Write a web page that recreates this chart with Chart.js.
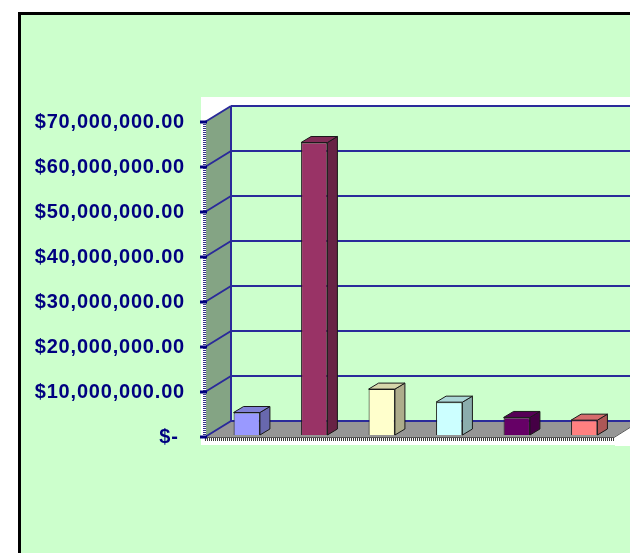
<!DOCTYPE html>
<html><head><meta charset="utf-8">
<script src="https://cdn.jsdelivr.net/npm/chart.js@4"></script>
<style>html,body{margin:0;padding:0;background:#fff;}canvas{display:block}</style>
</head><body>
<canvas id="c" width="630" height="553"></canvas>
<script>
const categories = ['Item 1', 'Item 2', 'Item 3', 'Item 4', 'Item 5', 'Item 6'];
const values = [5000000, 65000000, 10200000, 7300000, 3900000, 3300000];
const barColors = ['#9999FF', '#993366', '#FFFFCC', '#CCFFFF', '#660066', '#FF8080'];
const tickValues = [0, 10000000, 20000000, 30000000, 40000000, 50000000, 60000000, 70000000];
const tickLabels = ['$- ', '$10,000,000.00', '$20,000,000.00', '$30,000,000.00', '$40,000,000.00', '$50,000,000.00', '$60,000,000.00', '$70,000,000.00'];

function shade(hex, f) {
  const n = parseInt(hex.slice(1), 16);
  const r = Math.round(((n >> 16) & 255) * f), g = Math.round(((n >> 8) & 255) * f), b = Math.round((n & 255) * f);
  return 'rgb(' + r + ',' + g + ',' + b + ')';
}

const NAVY = '#2A2A9A';
const BAR_DX = 10, BAR_DY = 6;

const scene3d = {
  id: 'scene3d',
  beforeDraw(chart) {
    const ctx = chart.ctx, ca = chart.chartArea, ys = chart.scales.y;
    const W = chart.width, H = chart.height;
    ctx.save();
    ctx.fillStyle = '#FFFFFF'; ctx.fillRect(0, 0, W, H);
    ctx.fillStyle = '#000000'; ctx.fillRect(18, 12, W, H);
    ctx.fillStyle = '#CCFFCC'; ctx.fillRect(21, 15, W, H);
    ctx.fillStyle = '#FFFFFF'; ctx.fillRect(201, 97, W - 201, 348);

    const xF = ca.left - 8, xB = xF + 26;
    const yF = v => ys.getPixelForValue(v) + 2;
    const yB = v => yF(v) - 16;
    const vmax = tickValues[tickValues.length - 1];
    const xFR = ca.right - 4;

    ctx.fillStyle = '#CCFFCC';
    ctx.fillRect(xB, yB(vmax), W - xB, yB(0) - yB(vmax));
    ctx.fillStyle = '#84A484';
    ctx.beginPath();
    ctx.moveTo(xF, yF(0)); ctx.lineTo(xF, yF(vmax)); ctx.lineTo(xB, yB(vmax)); ctx.lineTo(xB, yB(0));
    ctx.closePath(); ctx.fill();
    ctx.fillStyle = '#969696';
    ctx.beginPath();
    ctx.moveTo(xF, yF(0)); ctx.lineTo(xB, yB(0)); ctx.lineTo(W + 20, yB(0)); ctx.lineTo(xFR + 26, yB(0)); ctx.lineTo(xFR, yF(0));
    ctx.closePath(); ctx.fill();
    ctx.fillStyle = '#FFFFFF';
    ctx.fillRect(xFR + 1, yF(0) + 1, W, 8);

    ctx.strokeStyle = NAVY; ctx.lineWidth = 2;
    tickValues.forEach(v => {
      ctx.beginPath();
      ctx.moveTo(xB, yB(v)); ctx.lineTo(W, yB(v));
      ctx.moveTo(xF, yF(v)); ctx.lineTo(xB, yB(v));
      ctx.stroke();
    });
    ctx.beginPath(); ctx.moveTo(xB, yB(0)); ctx.lineTo(xB, yB(vmax)); ctx.stroke();

    ctx.strokeStyle = '#3a3a3a'; ctx.lineWidth = 3; ctx.setLineDash([1, 1]);
    ctx.beginPath(); ctx.moveTo(xF, yF(0) + 2.5); ctx.lineTo(xFR, yF(0) + 2.5); ctx.stroke();
    ctx.strokeStyle = '#555555'; ctx.lineWidth = 1; ctx.setLineDash([]);
    ctx.beginPath(); ctx.moveTo(xF, yF(0) + 0.5); ctx.lineTo(xFR, yF(0) + 0.5); ctx.lineTo(xFR + 20, yF(0) - 12); ctx.stroke();
    ctx.fillStyle = '#FFFFFF'; ctx.fillRect(xF - 2, yF(vmax), 3, yF(0) - yF(vmax));
    ctx.strokeStyle = '#333388'; ctx.lineWidth = 3; ctx.setLineDash([1, 1]);
    ctx.beginPath(); ctx.moveTo(xF - 0.5, yF(vmax)); ctx.lineTo(xF - 0.5, yF(0)); ctx.stroke();
    ctx.setLineDash([]);
    ctx.strokeStyle = '#000080'; ctx.lineWidth = 3;
    tickValues.forEach(v => {
      ctx.beginPath(); ctx.moveTo(xF - 5, yF(v)); ctx.lineTo(xF + 2, yF(v)); ctx.stroke();
    });
    ctx.restore();
    ctx.letterSpacing = '0.8px';
  },
  afterDatasetsDraw(chart) {
    const ctx = chart.ctx;
    const meta = chart.getDatasetMeta(0);
    ctx.save();
    ctx.lineWidth = 1; ctx.strokeStyle = '#1a1a1a'; ctx.lineJoin = 'round';
    meta.data.forEach((bar, i) => {
      const p = bar.getProps(['x', 'y', 'base', 'width'], true);
      const L = p.x - p.width / 2, R = p.x + p.width / 2;
      const col = barColors[i];
      ctx.fillStyle = shade(col, 0.68);
      ctx.beginPath();
      ctx.moveTo(R, p.y); ctx.lineTo(R + BAR_DX, p.y - BAR_DY); ctx.lineTo(R + BAR_DX, p.base - BAR_DY); ctx.lineTo(R, p.base);
      ctx.closePath(); ctx.fill(); ctx.stroke();
      ctx.fillStyle = shade(col, 0.84);
      ctx.beginPath();
      ctx.moveTo(L, p.y); ctx.lineTo(L + BAR_DX, p.y - BAR_DY); ctx.lineTo(R + BAR_DX, p.y - BAR_DY); ctx.lineTo(R, p.y);
      ctx.closePath(); ctx.fill(); ctx.stroke();
    });
    ctx.restore();
  }
};

new Chart(document.getElementById('c'), {
  type: 'bar',
  data: {
    labels: categories,
    datasets: [{
      data: values,
      backgroundColor: barColors,
      borderColor: '#1a1a1a',
      borderWidth: 1,
      barPercentage: 0.39,
      categoryPercentage: 1
    }]
  },
  options: {
    responsive: false,
    animation: false,
    devicePixelRatio: 1,
    layout: { padding: { left: 0, right: 12, top: 120, bottom: 118 } },
    plugins: { legend: { display: false }, tooltip: { enabled: false } },
    scales: {
      x: { display: false },
      y: {
        min: 0, max: 70000000,
        afterBuildTicks: s => { s.ticks = tickValues.map(v => ({ value: v })); },
        afterFit: s => { s.width = 213; },
        grid: { display: false, drawTicks: false },
        border: { display: false },
        ticks: {
          padding: 28, labelOffset: 2, color: '#000080',
          font: { family: '"Liberation Sans", Arial, sans-serif', size: 20, weight: 'bold' },
          callback: (v, i) => tickLabels[i]
        }
      }
    }
  },
  plugins: [scene3d]
});
</script>
</body></html>
